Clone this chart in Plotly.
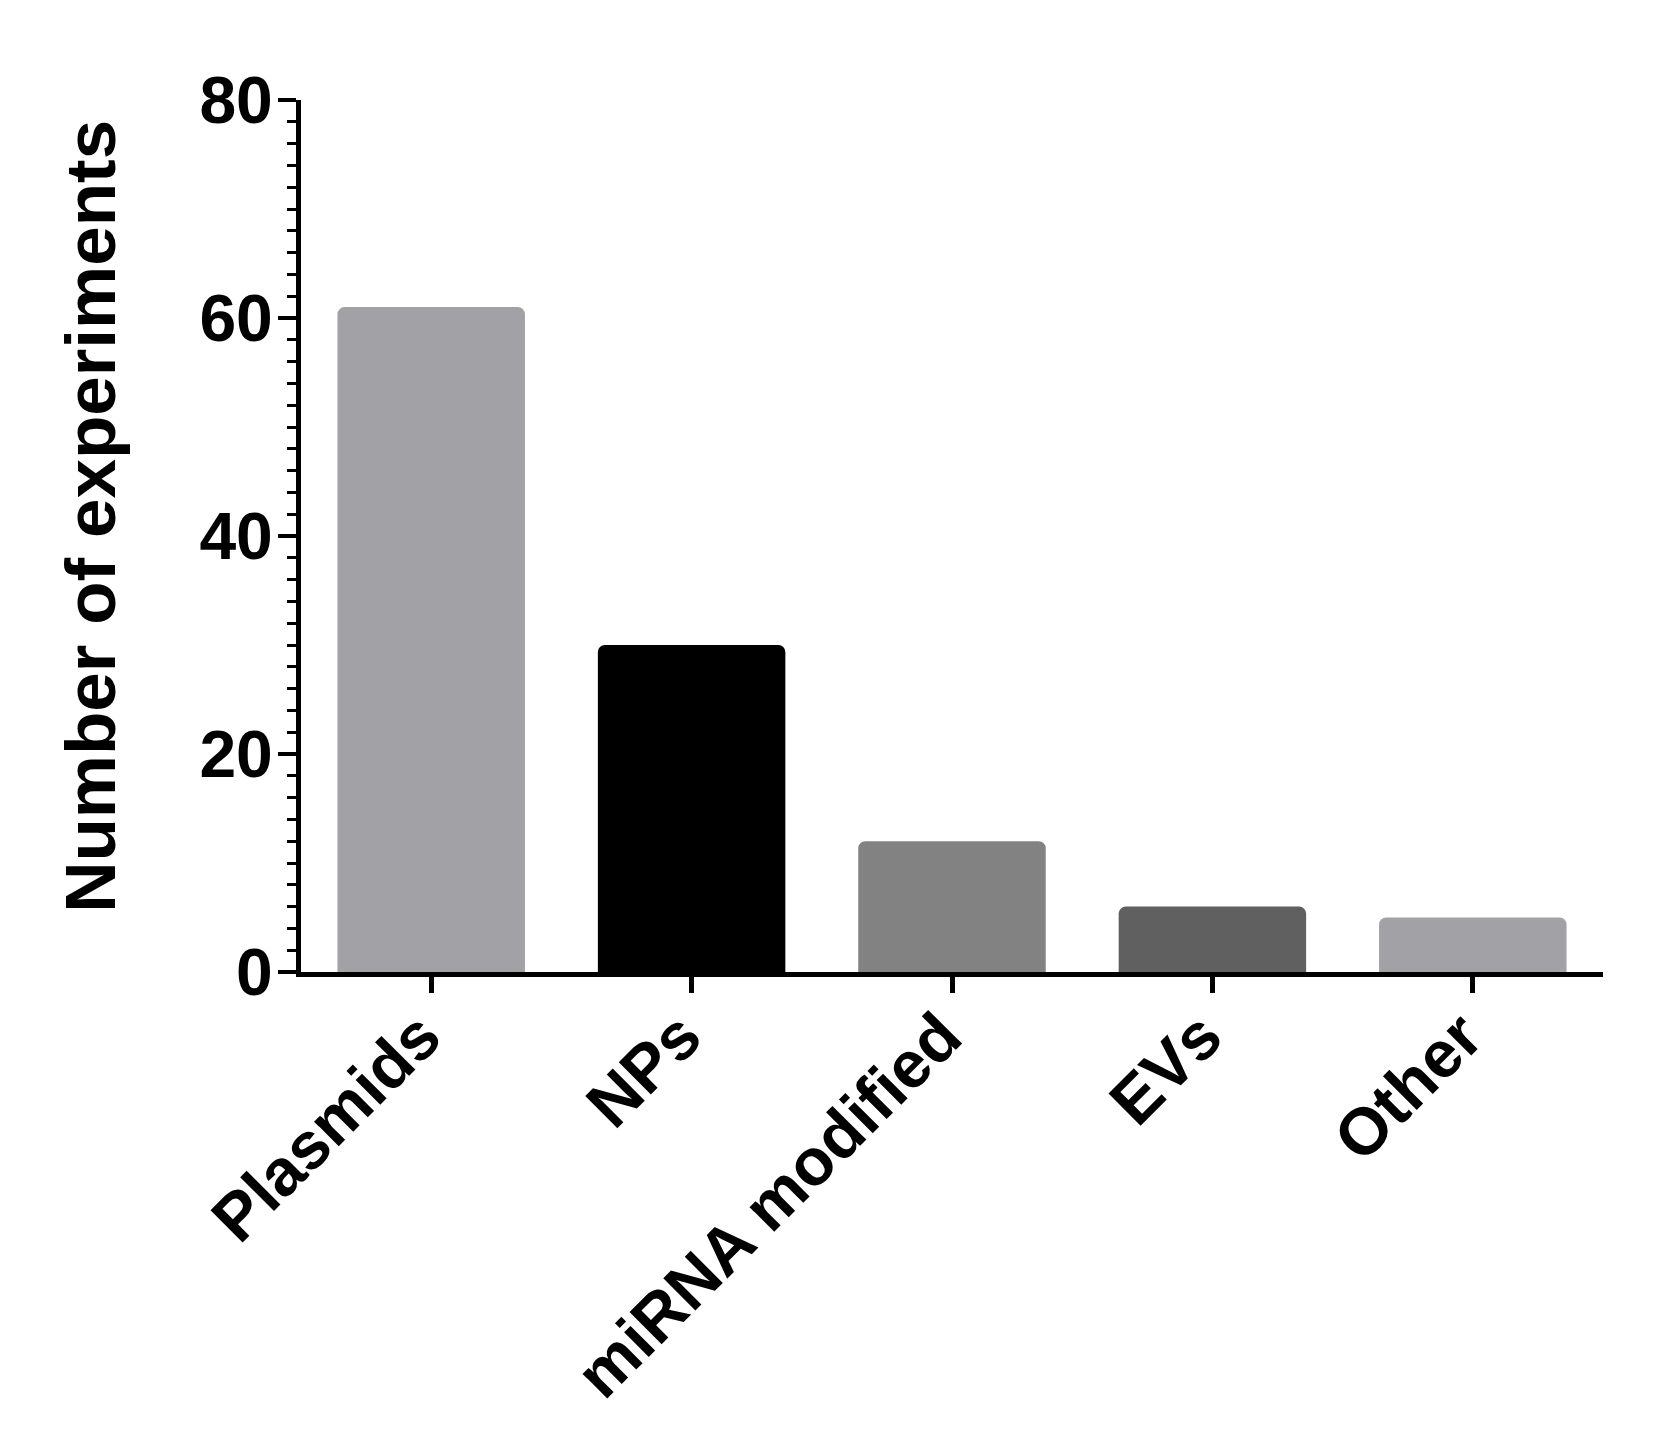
import plotly.graph_objects as go

# bar chart data
categories = ["Plasmids", "NPs", "miRNA modified", "EVs", "Other"]
experiments = [61, 30, 12, 6, 5]
bar_colors = ["#a2a1a6", "#000000", "#828282", "#606060", "#a2a1a6"]

y_ticks = [0, 20, 40, 60, 80]
y_title = "Number of experiments"

font_family = "Liberation Sans, Arial, sans-serif"
left = 293

fig = go.Figure(go.Bar(
    x=categories,
    y=experiments,
    marker=dict(color=bar_colors, line=dict(width=0), cornerradius=7),
))

fig.update_layout(
    width=1676,
    height=1449,
    plot_bgcolor="white",
    paper_bgcolor="white",
    bargap=0.28,
    showlegend=False,
    margin=dict(l=left, r=81, t=92, b=485, autoexpand=False),
    font=dict(family=font_family, color="black"),
)

fig.update_xaxes(
    range=[-0.5, 4.5],
    showline=True,
    linecolor="black",
    linewidth=5,
    ticks="outside",
    ticklen=16,
    tickwidth=5,
    tickcolor="black",
    tickangle=-45,
    ticklabelstandoff=-22,
    ticklabelshift=-10,
    tickfont=dict(size=66, weight="bold", family=font_family),
    showgrid=False,
    zeroline=False,
)

fig.update_yaxes(
    range=[0, 80],
    tickvals=y_ticks,
    showline=True,
    linecolor="black",
    linewidth=5,
    ticks="outside",
    ticklen=18,
    tickwidth=4,
    tickcolor="black",
    ticklabelstandoff=-8,
    minor=dict(dtick=2, ticks="outside", ticklen=9, tickwidth=3, tickcolor="black"),
    tickfont=dict(size=66, weight="bold", family=font_family),
    showgrid=False,
    zeroline=False,
)

# axis title placed as an annotation so it can sit slightly above centre
fig.add_annotation(
    text=y_title,
    textangle=-90,
    xref="paper", yref="paper",
    x=0, y=0.522,
    xanchor="center", yanchor="middle",
    xshift=83 - left,
    showarrow=False,
    font=dict(size=71, weight="bold", family=font_family, color="black"),
)

fig.write_html("out.html")
